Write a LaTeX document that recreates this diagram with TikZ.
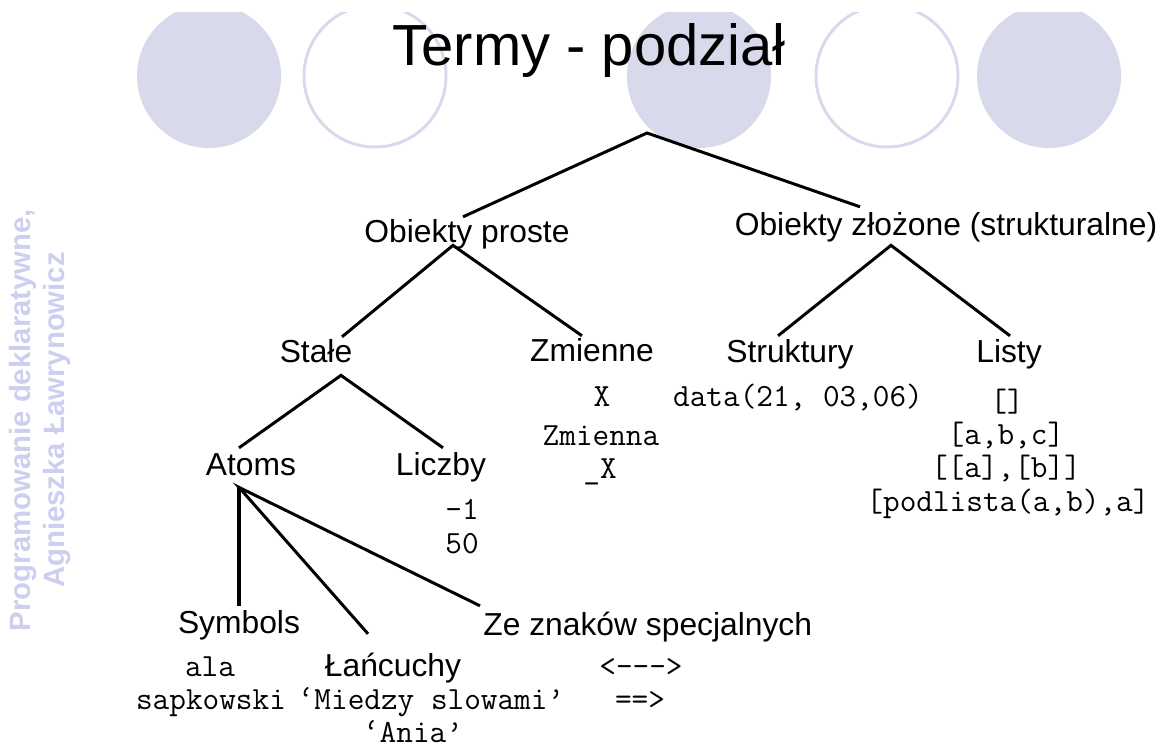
\documentclass[tikz,border=0pt]{standalone}
\usepackage{fontspec}
\setmainfont{Liberation Sans}
\definecolor{circfill}{RGB}{217,217,236}
\definecolor{sidetext}{RGB}{206,206,240}

\begin{document}
\begin{tikzpicture}[x=0.02cm, y=-0.02cm,
  lbl/.style={font=\fontsize{18.1}{21}\selectfont, inner sep=0pt, text height=13pt, text depth=0pt, anchor=base},
  code/.style={font=\ttfamily\fontsize{18.4}{21}\selectfont, inner sep=0pt, anchor=base},
  branch/.style={line width=1.7pt},
  ring/.style={draw=circfill, line width=1.7pt}]
\useasboundingbox (0,0) rectangle (1169,751);
% circles along the top edge
\begin{scope}
  \clip (0,12) rectangle (1169,751);
  \fill[circfill] (209,76) circle (72);
  \draw[ring] (375,76) circle (71);
  \fill[circfill] (699,76) circle (72);
  \draw[ring] (887,76) circle (71);
  \fill[circfill] (1049,76) circle (72);
\end{scope}
\node[rotate=90, align=center, text=sidetext, inner sep=0pt,
      font=\bfseries\fontsize{16.7}{19.8}\selectfont] (side) at (40,420)
      {Programowanie deklaratywne,\\Agnieszka Ławrynowicz};
\node[anchor=base, inner sep=0pt, font=\fontsize{33}{40}\selectfont] (title) at (589,65) {Termy - podział};

% tree
\coordinate (root) at (647,133);
\node[lbl] (obp) at (467,242) {Obiekty proste};
\node[lbl] (obz) at (946,235) {Obiekty złożone (strukturalne)};
\node[lbl] (stale) at (316,362) {Stałe};
\node[lbl] (zmienne) at (592,361) {Zmienne};
\node[lbl] (struktury) at (790,362) {Struktury};
\node[lbl] (listy) at (1009,362) {Listy};
\node[lbl] (atoms) at (251,475) {Atoms};
\node[lbl] (liczby) at (441,475) {Liczby};
\node[lbl] (symbols) at (239,633) {Symbols};
\node[lbl] (lancuchy) at (393,676) {Łańcuchy};
\node[lbl, anchor=base west] (ze) at (483,635) {Ze znaków specjalnych};

% examples
\node[code] (varx) at (602,406) {X};
\node[code] (varzm) at (601,445) {Zmienna};
\node[code] (varux) at (600,478) {\_X};
\node[code] (data) at (798,406) {data(21, 03,06)};
\node[code] (lst1) at (1007,411) {[]};
\node[code] (lst2) at (1006,444) {[a,b,c]};
\node[code] (lst3) at (1006,477) {[[a],[b]]};
\node[code] (lst4) at (1008,511) {[podlista(a,b),a]};
\node[code] (num1) at (462,519) {-1};
\node[code] (num2) at (462,553) {50};
\node[code] (sym1) at (210,676) {ala};
\node[code] (sym2) at (211,709) {sapkowski};
\node[code] (str1) at (431,709) {‘Miedzy slowami’};
\node[code] (str2) at (413,742) {‘Ania’};
\node[code] (spc1) at (641,676) {<{-}{-}{-}>};
\node[code] (spc2) at (640,709) {==>};

\draw[branch] ([shift={(-4,-2)}]obp.north) -- (root) -- ([shift={(-86,-5)}]obz.north);
\draw[branch] ([shift={(26,-2)}]stale.north) -- ([shift={(-14,3)}]obp.south) -- ([shift={(-10,-2)}]zmienne.north);
\draw[branch] ([shift={(-12,-3)}]struktury.north) -- ([shift={(-55,10)}]obz.south) -- ([shift={(1,-3)}]listy.north);
\draw[branch] ([shift={(-12,-4)}]atoms.north) -- ([shift={(25,13)}]stale.south) -- ([shift={(2,-4)}]liczby.north);
\draw[branch, line width=2.8pt] ([shift={(-12,12)}]atoms.south) -- ([shift={(0,-4)}]symbols.north);
\draw[branch] ([shift={(-25,-19)}]lancuchy.north) -- ([shift={(-12,12)}]atoms.south) -- ([shift={(-3,-6)}]ze.north west);
\end{tikzpicture}
\end{document}
